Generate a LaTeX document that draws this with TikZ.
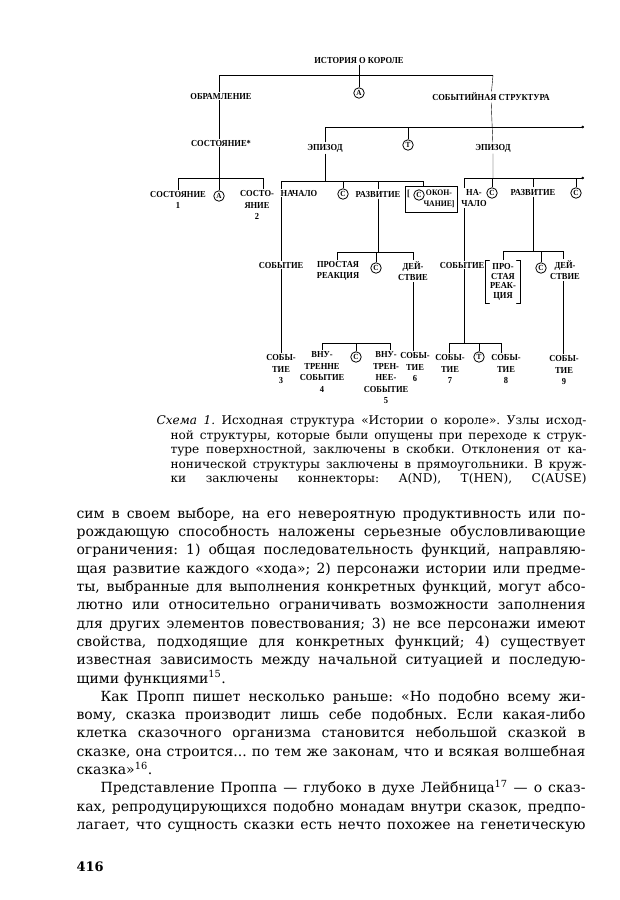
\documentclass[tikz,border=0pt]{standalone}
\usepackage{fontspec}
\setmainfont{DejaVu Serif}
\newfontfamily\capfont{DejaVu Serif}[FakeStretch=1.01]
\newfontfamily\schemefont{Liberation Serif}[FakeStretch=0.92]
\usetikzlibrary{backgrounds,arrows.meta}
\newcommand\jrow[2][0pt]{\par\hbox{\hskip#1\hbox to\dimexpr\hsize-#1\relax{\spaceskip=.3em plus 1fil minus .12em\relax#2}}}
\newcommand\frow[2][0pt]{\par\hbox{\hskip#1#2}}
\newcommand\sups[1]{\textsuperscript{#1}}
\begin{document}
\frenchspacing
\begin{tikzpicture}[x=1pt,y=-1pt,line width=1.1pt,line cap=round,
	lbl/.style={font=\schemefont\bfseries\fontsize{9.2}{11.5}\selectfont,align=center,inner sep=1pt,fill=white},
	conn/.style={circle,draw,line width=.8pt,inner sep=0pt,minimum size=10.5pt,fill=white,font=\schemefont\bfseries\fontsize{7.8}{7.8}\selectfont},
	bardot/.style={-{Circle[length=2.6pt]}},
	prose/.style={anchor=base west,inner sep=0pt,align=left}]
	\useasboundingbox (0,0) rectangle (620,900);
	\node[lbl] (root) at (359,60) {ИСТОРИЯ О КОРОЛЕ};
	\node[conn] (aroot) at (359,93) {A};
	\node[lbl] (frame) at (221,96) {ОБРАМЛЕНИЕ};
	\node[lbl] (state) at (221,143) {СОСТОЯНИЕ*};
	\node[conn] (aframe) at (219,196) {A};
	\node[lbl] (st1) at (178,200) {СОСТОЯНИЕ\\1};
	\node[lbl] (st2) at (257,205) {СОСТО-\\ЯНИЕ\\2};
	\node[lbl] (evstr) at (491,97) {СОБЫТИЙНАЯ СТРУКТУРА};
	\node[lbl] (ep1) at (325,148) {ЭПИЗОД};
	\node[conn] (tep) at (408,145) {T};
	\node[lbl] (ep2) at (493,148) {ЭПИЗОД};
	% first episode
	\node[lbl] (beg1) at (299,193) {НАЧАЛО};
	\node[conn] (c11) at (343,194) {C};
	\node[lbl] (dev1) at (378,194) {РАЗВИТИЕ};
	\node[draw,line width=.8pt,minimum width=52pt,minimum height=26pt] (endbox) at (431,199) {};
	\node[lbl,fill=none] (endbrk) at (408.5,194) {[};
	\node[conn] (c12) at (419,195) {C};
	\node[lbl,fill=none,font=\schemefont\bfseries\fontsize{8.4}{11.5}\selectfont] (endtxt) at (439,199) {ОКОН-\\ЧАНИЕ]};
	\node[lbl] (ev1) at (281,265) {СОБЫТИЕ};
	\node[lbl] (simp1) at (338,271) {ПРОСТАЯ\\РЕАКЦИЯ};
	\node[conn] (c13) at (376,268) {C};
	\node[lbl] (act1) at (413,271) {ДЕЙ-\\СТВИЕ};
	\node[lbl] (ev3) at (281,369) {СОБЫ-\\ТИЕ\\3};
	\node[lbl] (in4) at (322,372) {ВНУ-\\ТРЕННЕ\\СОБЫТИЕ\\4};
	\node[conn] (c14) at (356,357) {C};
	\node[lbl] (in5) at (386,378) {ВНУ-\\ТРЕН-\\НЕЕ-\\СОБЫТИЕ\\5};
	\node[lbl] (ev6) at (415,367) {СОБЫ-\\ТИЕ\\6};
	% second episode
	\node[lbl] (beg2) at (474,198) {НА-\\ЧАЛО};
	\node[conn] (c21) at (492,193) {C};
	\node[lbl] (dev2) at (533,192) {РАЗВИТИЕ};
	\node[conn] (c22) at (576,193) {C};
	\node[lbl] (ev2) at (462,265) {СОБЫТИЕ};
	\node[lbl,font=\schemefont\bfseries\fontsize{9.2}{9.5}\selectfont,inner xsep=4pt,inner ysep=3pt] (simp2) at (503,282) {ПРО-\\СТАЯ\\РЕАК-\\ЦИЯ};
	\node[conn] (c23) at (541,268) {C};
	\node[lbl] (act2) at (565,270) {ДЕЙ-\\СТВИЕ};
	\node[lbl] (ev7) at (450,369) {СОБЫ-\\ТИЕ\\7};
	\node[conn] (t2) at (479,357) {T};
	\node[lbl] (ev8) at (506,369) {СОБЫ-\\ТИЕ\\8};
	\node[lbl] (ev9) at (564,370) {СОБЫ-\\ТИЕ\\9};
	% bar ends
	\coordinate (topL) at (219,75);
	\coordinate (topR) at (493,75);
	\coordinate (stL) at (178,178);
	\coordinate (stR) at (263,178);
	\coordinate (e1L) at (325,127);
	\coordinate (e1R) at (584,127);
	\coordinate (b1L) at (281,181);
	\coordinate (b1R) at (423,181);
	\coordinate (d1L) at (337,252);
	\coordinate (d1R) at (413,252);
	\coordinate (iL) at (322,343);
	\coordinate (iR) at (390,343);
	\coordinate (b2L) at (464,178);
	\coordinate (b2R) at (584,178);
	\coordinate (d2L) at (503,251);
	\coordinate (d2R) at (563,251);
	\coordinate (e2L) at (449,343);
	\coordinate (e2R) at (501,343);
	\begin{scope}[on background layer]
		\draw (topL) -- (topR);
		\draw (root) -- (root|-topL);
		\draw (aroot) -- (aroot|-topL);
		\draw (topL) -- (aframe);
		\draw (stL) -- (stR);
		\draw (stL) -- (st1);
		\draw (stR) -- (stR|-st2.north);
		\draw (topR) -- (evstr) -- (ep2) -- (ep2|-b2L);
		\draw[bardot] (e1L) -- (e1R);
		\draw (tep) -- (tep|-e1L);
		\draw (e1L) -- (ep1) -- (ep1|-b1L);
		\draw (b1L) -- (b1R);
		\draw (b1L) -- (b1L|-ev3.north);
		\draw (c11) -- (c11|-b1L);
		\draw (dev1) -- (dev1|-b1L);
		\draw (dev1) -- (dev1|-d1L);
		\draw (b1R) -- (b1R|-endbox.north);
		\draw (d1L) -- (d1R);
		\draw (d1L) -- (d1L|-simp1.north);
		\draw (c13) -- (c13|-d1L);
		\draw (d1R) -- (d1R|-ev6.north);
		\draw (iL) -- (iR);
		\draw (iL) -- (iL|-in4.north);
		\draw (iR) -- (iR|-in5.north);
		\draw (c14) -- (c14|-iL);
		\draw[bardot] (b2L) -- (b2R);
		\draw (b2L) -- (e2L-|b2L);
		\draw (c21) -- (c21|-b2L);
		\draw (dev2) -- (dev2|-b2L);
		\draw (dev2) -- (dev2|-d2L);
		\draw (c22) -- (c22|-b2L);
		\draw (d2L) -- (d2R);
		\draw (d2L) -- (d2L|-simp2.north);
		\draw (c23) -- (c23|-d2L);
		\draw (d2R) -- (d2R|-ev9.north);
		\draw (e2L) -- (e2R);
		\draw (e2L) -- (e2L|-ev7.north);
		\draw (e2R) -- (e2R|-ev8.north);
		\draw (t2) -- (t2|-e2L);
	\end{scope}
	\draw[line width=.8pt] ([xshift=4pt]simp2.north west) -- (simp2.north west) -- (simp2.south west) -- ++(4,0);
	\draw[line width=.8pt] ([xshift=-4pt]simp2.north east) -- (simp2.north east) -- (simp2.south east) -- ++(-4,0);
	% caption and text
	\node[prose,text width=430pt,font=\capfont\fontsize{12}{14.5}\selectfont] (caption) at (156,410) {%
		\jrow{\textit{Схема 1.} Исходная структура «Истории о короле». Узлы исход-}
		\jrow[14pt]{ной структуры, которые были опущены при переходе к струк-}
		\jrow[14pt]{туре поверхностной, заключены в скобки. Отклонения от ка-}
		\jrow[14pt]{нонической структуры заключены в прямоугольники. В круж-}
		\jrow[14pt]{ки заключены коннекторы: A(ND), T(HEN), C(AUSE)}};
	\node[prose,text width=509pt,font=\fontsize{14}{18.3}\selectfont] (body) at (76,500) {%
		\jrow{сим в своем выборе, на его невероятную продуктивность или по-}
		\jrow{рождающую способность наложены серьезные обусловливающие}
		\jrow{ограничения: 1) общая последовательность функций, направляю-}
		\jrow{щая развитие каждого «хода»; 2) персонажи истории или предме-}
		\jrow{ты, выбранные для выполнения конкретных функций, могут абсо-}
		\jrow{лютно или относительно ограничивать возможности заполнения}
		\jrow{для других элементов повествования; 3) не все персонажи имеют}
		\jrow{свойства, подходящие для конкретных функций; 4) существует}
		\jrow{известная зависимость между начальной ситуацией и последую-}
		\frow{щими функциями\sups{15}.}
		\jrow[24pt]{Как Пропп пишет несколько раньше: «Но подобно всему жи-}
		\jrow{вому, сказка производит лишь себе подобных. Если какая-либо}
		\jrow{клетка сказочного организма становится небольшой сказкой в}
		\jrow{сказке, она строится... по тем же законам, что и всякая волшебная}
		\frow{сказка»\sups{16}.}
		\jrow[24pt]{Представление Проппа — глубоко в духе Лейбница\sups{17} — о сказ-}
		\jrow{ках, репродуцирующихся подобно монадам внутри сказок, предпо-}
		\jrow{лагает, что сущность сказки есть нечто похожее на генетическую}};
	\node[prose,font=\bfseries\fontsize{13}{13}\selectfont] (pageno) at (76,871) {416};
\end{tikzpicture}
\end{document}
